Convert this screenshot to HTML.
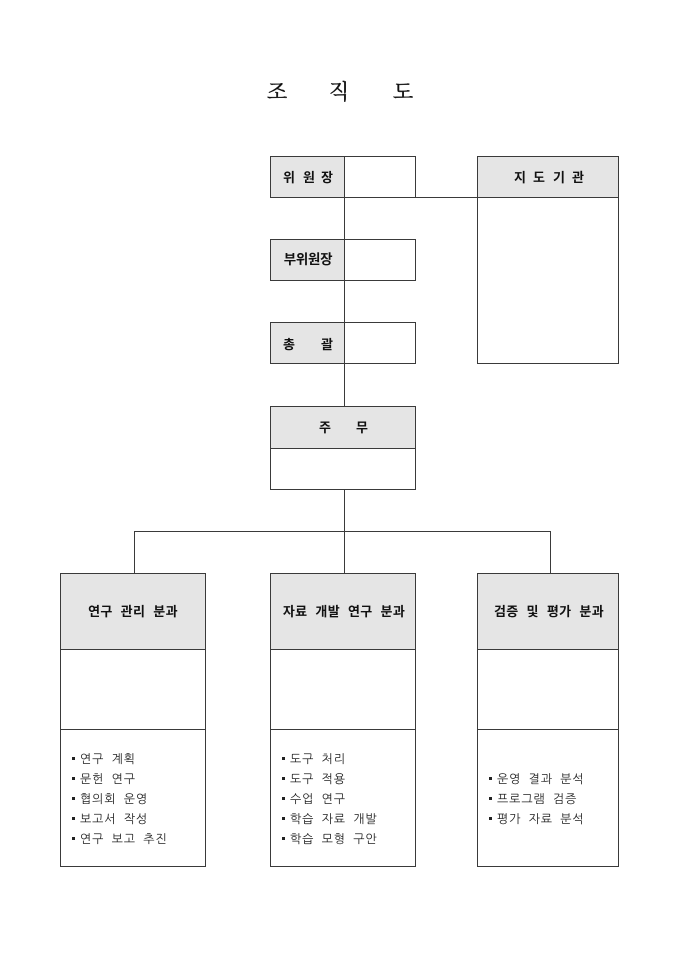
<!DOCTYPE html>
<html lang="ko">
<head>
<meta charset="utf-8">
<style>
html,body{margin:0;padding:0;background:#fff;width:680px;height:962px;overflow:hidden}
svg{display:block}
.t{font-family:"Liberation Serif","Noto Serif CJK SC",serif;font-size:21px;fill:#111;stroke:#111;stroke-width:.35px;text-anchor:middle}
.h{font-family:"Liberation Sans","WenQuanYi Zen Hei","Noto Sans CJK KR",sans-serif;font-size:13px;font-weight:bold;fill:#111;text-anchor:middle}
.w{word-spacing:4px;letter-spacing:.35px}
.b{font-family:"Liberation Sans","NanumGothic","Noto Sans CJK KR",sans-serif;font-size:12px;fill:#222;letter-spacing:.9px;word-spacing:3px}
.l{stroke:#3a3a3a;stroke-width:1;fill:none;shape-rendering:crispEdges}
.g{fill:#e5e5e5;stroke:none;shape-rendering:crispEdges}
.d{fill:#222;shape-rendering:crispEdges}
</style>
</head>
<body>
<svg width="680" height="962" viewBox="0 0 680 962" xmlns="http://www.w3.org/2000/svg">
<text class="t" x="277" y="99">조</text>
<text class="t" x="339" y="99">직</text>
<text class="t" x="403" y="99">도</text>

<rect class="g" x="270" y="156" width="75" height="41"/>
<rect class="g" x="477" y="156" width="142" height="41"/>
<rect class="g" x="270" y="239" width="75" height="41"/>
<rect class="g" x="270" y="322" width="75" height="41"/>
<rect class="g" x="270" y="406" width="146" height="42"/>
<rect class="g" x="60" y="573" width="146" height="76"/>
<rect class="g" x="270" y="573" width="146" height="76"/>
<rect class="g" x="477" y="573" width="142" height="76"/>

<g class="l">
<rect x="270.5" y="156.5" width="145" height="41"/>
<rect x="270.5" y="239.5" width="145" height="41"/>
<rect x="270.5" y="322.5" width="145" height="41"/>
<rect x="270.5" y="406.5" width="145" height="83"/>
<path d="M270 448.5H416"/>
<rect x="477.5" y="156.5" width="141" height="207"/>
<path d="M477 197.5H619"/>
<path d="M344.5 156V406M416 197.5H477"/>
<path d="M344.5 490V573M134.5 573V531.5H550.5V573"/>
<rect x="60.5" y="573.5" width="145" height="293"/>
<path d="M60 649.5H206M60 729.5H206"/>
<rect x="270.5" y="573.5" width="145" height="293"/>
<path d="M270 649.5H416M270 729.5H416"/>
<rect x="477.5" y="573.5" width="141" height="293"/>
<path d="M477 649.5H619M477 729.5H619"/>
</g>

<text class="h" x="289" y="182">위</text><text class="h" x="309" y="182">원</text><text class="h" x="327" y="182">장</text>
<text class="h" x="308" y="264" style="letter-spacing:-.3px;font-size:13.5px">부위원장</text>
<text class="h" x="289" y="349">총</text><text class="h" x="327" y="349">괄</text>
<text class="h" x="325" y="432">주</text><text class="h" x="362" y="432">무</text>
<text class="h" x="520" y="182">지</text><text class="h" x="539" y="182">도</text><text class="h" x="559" y="182">기</text><text class="h" x="578" y="182">관</text>

<text class="h w" x="133" y="616">연구 관리 분과</text>
<text class="h w" x="344" y="616">자료 개발 연구 분과</text>
<text class="h w" x="549" y="616">검증 및 평가 분과</text>

<g class="d">
<rect x="72" y="757" width="3" height="3"/><rect x="72" y="777" width="3" height="3"/><rect x="72" y="797" width="3" height="3"/><rect x="72" y="817" width="3" height="3"/><rect x="72" y="837" width="3" height="3"/>
<rect x="282" y="757" width="3" height="3"/><rect x="282" y="777" width="3" height="3"/><rect x="282" y="797" width="3" height="3"/><rect x="282" y="817" width="3" height="3"/><rect x="282" y="837" width="3" height="3"/>
<rect x="489" y="777" width="3" height="3"/><rect x="489" y="797" width="3" height="3"/><rect x="489" y="817" width="3" height="3"/>
</g>
<text class="b" x="80" y="763">연구 계획</text>
<text class="b" x="80" y="783">문헌 연구</text>
<text class="b" x="80" y="803">협의회 운영</text>
<text class="b" x="80" y="823">보고서 작성</text>
<text class="b" x="80" y="843">연구 보고 추진</text>
<text class="b" x="290" y="763">도구 처리</text>
<text class="b" x="290" y="783">도구 적용</text>
<text class="b" x="290" y="803">수업 연구</text>
<text class="b" x="290" y="823">학습 자료 개발</text>
<text class="b" x="290" y="843">학습 모형 구안</text>
<text class="b" x="497" y="783">운영 결과 분석</text>
<text class="b" x="497" y="803">프로그램 검증</text>
<text class="b" x="497" y="823">평가 자료 분석</text>
</svg>
</body>
</html>
